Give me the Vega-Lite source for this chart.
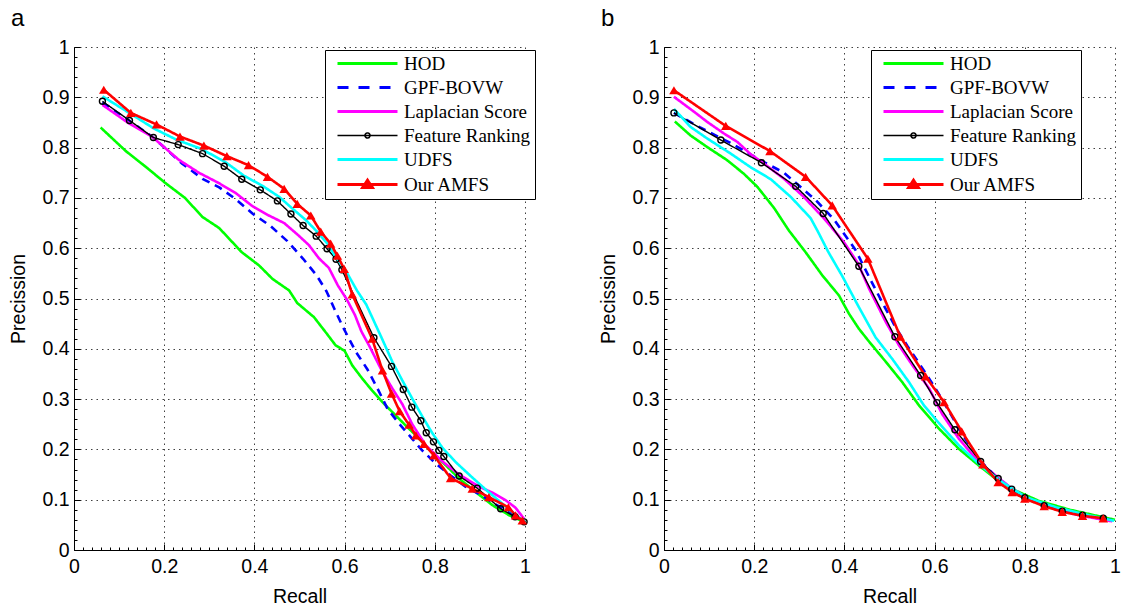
{
"$schema": "https://vega.github.io/schema/vega-lite/v6.json",
"padding": {"left": 8, "top": 7, "right": 5, "bottom": 5},
"bounds": "flush",
"spacing": 139,
"config": {
  "view": {"stroke": null},
  "font": "Liberation Sans",
  "axis": {
    "labelFont": "Liberation Sans", "labelFontSize": 19.5, "labelColor": "black",
    "titleFont": "Liberation Sans", "titleFontSize": 19.5, "titleFontWeight": "normal", "titleColor": "black",
    "domainColor": "black", "domainWidth": 1, "tickColor": "black", "tickWidth": 1,
    "gridColor": "#404040", "gridDash": [1.5, 4], "gridWidth": 1,
    "labelFlush": false, "labelOverlap": false
  },
  "legend": {
    "orient": "none", "title": null,
    "padding": 4, "symbolOffset": 29, "symbolSize": 400, "symbolType": "stroke", "rowPadding": 4,
    "labelFont": "Liberation Serif", "labelFontSize": 19, "labelColor": "black", "labelOffset": 27, "labelLimit": 400,
    "strokeColor": "black", "fillColor": "white", "symbolStrokeWidth": 3
  },
  "title": {"font": "Liberation Sans", "fontSize": 24, "fontWeight": "normal", "color": "black", "anchor": "start", "frame": "bounds", "offset": 6, "dx": 2}
},
"resolve": {"scale": {"color": "independent"}, "legend": {"color": "independent"}},
"data": {"values": [
{"panel":"a","series":"HOD","recall":0.059,"precision":0.840},
{"panel":"a","series":"HOD","recall":0.115,"precision":0.793},
{"panel":"a","series":"HOD","recall":0.163,"precision":0.759},
{"panel":"a","series":"HOD","recall":0.202,"precision":0.730},
{"panel":"a","series":"HOD","recall":0.246,"precision":0.700},
{"panel":"a","series":"HOD","recall":0.285,"precision":0.662},
{"panel":"a","series":"HOD","recall":0.322,"precision":0.640},
{"panel":"a","series":"HOD","recall":0.372,"precision":0.592},
{"panel":"a","series":"HOD","recall":0.410,"precision":0.566},
{"panel":"a","series":"HOD","recall":0.440,"precision":0.539},
{"panel":"a","series":"HOD","recall":0.477,"precision":0.516},
{"panel":"a","series":"HOD","recall":0.495,"precision":0.491},
{"panel":"a","series":"HOD","recall":0.532,"precision":0.463},
{"panel":"a","series":"HOD","recall":0.558,"precision":0.433},
{"panel":"a","series":"HOD","recall":0.580,"precision":0.407},
{"panel":"a","series":"HOD","recall":0.600,"precision":0.396},
{"panel":"a","series":"HOD","recall":0.617,"precision":0.367},
{"panel":"a","series":"HOD","recall":0.639,"precision":0.341},
{"panel":"a","series":"HOD","recall":0.661,"precision":0.317},
{"panel":"a","series":"HOD","recall":0.684,"precision":0.294},
{"panel":"a","series":"HOD","recall":0.706,"precision":0.274},
{"panel":"a","series":"HOD","recall":0.735,"precision":0.248},
{"panel":"a","series":"HOD","recall":0.758,"precision":0.228},
{"panel":"a","series":"HOD","recall":0.787,"precision":0.201},
{"panel":"a","series":"HOD","recall":0.817,"precision":0.175},
{"panel":"a","series":"HOD","recall":0.854,"precision":0.142},
{"panel":"a","series":"HOD","recall":0.891,"precision":0.115},
{"panel":"a","series":"HOD","recall":0.928,"precision":0.089},
{"panel":"a","series":"HOD","recall":0.965,"precision":0.069},
{"panel":"a","series":"HOD","recall":0.998,"precision":0.056},
{"panel":"a","series":"GPF-BOVW","recall":0.063,"precision":0.890},
{"panel":"a","series":"GPF-BOVW","recall":0.120,"precision":0.855},
{"panel":"a","series":"GPF-BOVW","recall":0.176,"precision":0.820},
{"panel":"a","series":"GPF-BOVW","recall":0.240,"precision":0.768},
{"panel":"a","series":"GPF-BOVW","recall":0.285,"precision":0.738},
{"panel":"a","series":"GPF-BOVW","recall":0.322,"precision":0.721},
{"panel":"a","series":"GPF-BOVW","recall":0.358,"precision":0.698},
{"panel":"a","series":"GPF-BOVW","recall":0.397,"precision":0.668},
{"panel":"a","series":"GPF-BOVW","recall":0.436,"precision":0.644},
{"panel":"a","series":"GPF-BOVW","recall":0.473,"precision":0.614},
{"panel":"a","series":"GPF-BOVW","recall":0.508,"precision":0.579},
{"panel":"a","series":"GPF-BOVW","recall":0.538,"precision":0.546},
{"panel":"a","series":"GPF-BOVW","recall":0.560,"precision":0.514},
{"panel":"a","series":"GPF-BOVW","recall":0.577,"precision":0.480},
{"panel":"a","series":"GPF-BOVW","recall":0.597,"precision":0.442},
{"panel":"a","series":"GPF-BOVW","recall":0.625,"precision":0.394},
{"panel":"a","series":"GPF-BOVW","recall":0.650,"precision":0.360},
{"panel":"a","series":"GPF-BOVW","recall":0.673,"precision":0.321},
{"panel":"a","series":"GPF-BOVW","recall":0.695,"precision":0.281},
{"panel":"a","series":"GPF-BOVW","recall":0.721,"precision":0.251},
{"panel":"a","series":"GPF-BOVW","recall":0.750,"precision":0.221},
{"panel":"a","series":"GPF-BOVW","recall":0.772,"precision":0.198},
{"panel":"a","series":"GPF-BOVW","recall":0.802,"precision":0.172},
{"panel":"a","series":"GPF-BOVW","recall":0.835,"precision":0.148},
{"panel":"a","series":"GPF-BOVW","recall":0.868,"precision":0.126},
{"panel":"a","series":"GPF-BOVW","recall":0.905,"precision":0.108},
{"panel":"a","series":"GPF-BOVW","recall":0.940,"precision":0.088},
{"panel":"a","series":"GPF-BOVW","recall":0.970,"precision":0.072},
{"panel":"a","series":"GPF-BOVW","recall":0.998,"precision":0.057},
{"panel":"a","series":"Laplacian Score","recall":0.063,"precision":0.885},
{"panel":"a","series":"Laplacian Score","recall":0.122,"precision":0.848},
{"panel":"a","series":"Laplacian Score","recall":0.174,"precision":0.821},
{"panel":"a","series":"Laplacian Score","recall":0.232,"precision":0.776},
{"panel":"a","series":"Laplacian Score","recall":0.277,"precision":0.750},
{"panel":"a","series":"Laplacian Score","recall":0.320,"precision":0.730},
{"panel":"a","series":"Laplacian Score","recall":0.358,"precision":0.710},
{"panel":"a","series":"Laplacian Score","recall":0.395,"precision":0.684},
{"panel":"a","series":"Laplacian Score","recall":0.432,"precision":0.665},
{"panel":"a","series":"Laplacian Score","recall":0.466,"precision":0.650},
{"panel":"a","series":"Laplacian Score","recall":0.497,"precision":0.626},
{"panel":"a","series":"Laplacian Score","recall":0.521,"precision":0.606},
{"panel":"a","series":"Laplacian Score","recall":0.543,"precision":0.580},
{"panel":"a","series":"Laplacian Score","recall":0.565,"precision":0.561},
{"panel":"a","series":"Laplacian Score","recall":0.585,"precision":0.526},
{"panel":"a","series":"Laplacian Score","recall":0.605,"precision":0.498},
{"panel":"a","series":"Laplacian Score","recall":0.623,"precision":0.467},
{"panel":"a","series":"Laplacian Score","recall":0.637,"precision":0.435},
{"panel":"a","series":"Laplacian Score","recall":0.654,"precision":0.407},
{"panel":"a","series":"Laplacian Score","recall":0.684,"precision":0.354},
{"panel":"a","series":"Laplacian Score","recall":0.706,"precision":0.321},
{"panel":"a","series":"Laplacian Score","recall":0.728,"precision":0.290},
{"panel":"a","series":"Laplacian Score","recall":0.750,"precision":0.250},
{"panel":"a","series":"Laplacian Score","recall":0.780,"precision":0.208},
{"panel":"a","series":"Laplacian Score","recall":0.817,"precision":0.176},
{"panel":"a","series":"Laplacian Score","recall":0.854,"precision":0.150},
{"panel":"a","series":"Laplacian Score","recall":0.898,"precision":0.126},
{"panel":"a","series":"Laplacian Score","recall":0.928,"precision":0.114},
{"panel":"a","series":"Laplacian Score","recall":0.957,"precision":0.099},
{"panel":"a","series":"Laplacian Score","recall":0.979,"precision":0.084},
{"panel":"a","series":"Laplacian Score","recall":0.998,"precision":0.062},
{"panel":"a","series":"Feature Ranking","recall":0.063,"precision":0.892},
{"panel":"a","series":"Feature Ranking","recall":0.123,"precision":0.854},
{"panel":"a","series":"Feature Ranking","recall":0.176,"precision":0.820},
{"panel":"a","series":"Feature Ranking","recall":0.231,"precision":0.806},
{"panel":"a","series":"Feature Ranking","recall":0.285,"precision":0.788},
{"panel":"a","series":"Feature Ranking","recall":0.333,"precision":0.763},
{"panel":"a","series":"Feature Ranking","recall":0.372,"precision":0.737},
{"panel":"a","series":"Feature Ranking","recall":0.413,"precision":0.716},
{"panel":"a","series":"Feature Ranking","recall":0.451,"precision":0.694},
{"panel":"a","series":"Feature Ranking","recall":0.481,"precision":0.668},
{"panel":"a","series":"Feature Ranking","recall":0.508,"precision":0.645},
{"panel":"a","series":"Feature Ranking","recall":0.537,"precision":0.624},
{"panel":"a","series":"Feature Ranking","recall":0.561,"precision":0.599},
{"panel":"a","series":"Feature Ranking","recall":0.581,"precision":0.578},
{"panel":"a","series":"Feature Ranking","recall":0.594,"precision":0.557},
{"panel":"a","series":"Feature Ranking","recall":0.665,"precision":0.422},
{"panel":"a","series":"Feature Ranking","recall":0.704,"precision":0.365},
{"panel":"a","series":"Feature Ranking","recall":0.730,"precision":0.319},
{"panel":"a","series":"Feature Ranking","recall":0.749,"precision":0.284},
{"panel":"a","series":"Feature Ranking","recall":0.769,"precision":0.257},
{"panel":"a","series":"Feature Ranking","recall":0.781,"precision":0.233},
{"panel":"a","series":"Feature Ranking","recall":0.797,"precision":0.215},
{"panel":"a","series":"Feature Ranking","recall":0.809,"precision":0.198},
{"panel":"a","series":"Feature Ranking","recall":0.820,"precision":0.186},
{"panel":"a","series":"Feature Ranking","recall":0.854,"precision":0.147},
{"panel":"a","series":"Feature Ranking","recall":0.894,"precision":0.123},
{"panel":"a","series":"Feature Ranking","recall":0.946,"precision":0.082},
{"panel":"a","series":"Feature Ranking","recall":0.978,"precision":0.066},
{"panel":"a","series":"Feature Ranking","recall":0.998,"precision":0.056},
{"panel":"a","series":"UDFS","recall":0.063,"precision":0.902},
{"panel":"a","series":"UDFS","recall":0.126,"precision":0.867},
{"panel":"a","series":"UDFS","recall":0.177,"precision":0.838},
{"panel":"a","series":"UDFS","recall":0.229,"precision":0.815},
{"panel":"a","series":"UDFS","recall":0.281,"precision":0.798},
{"panel":"a","series":"UDFS","recall":0.336,"precision":0.771},
{"panel":"a","series":"UDFS","recall":0.377,"precision":0.744},
{"panel":"a","series":"UDFS","recall":0.418,"precision":0.724},
{"panel":"a","series":"UDFS","recall":0.455,"precision":0.702},
{"panel":"a","series":"UDFS","recall":0.484,"precision":0.679},
{"panel":"a","series":"UDFS","recall":0.514,"precision":0.656},
{"panel":"a","series":"UDFS","recall":0.540,"precision":0.632},
{"panel":"a","series":"UDFS","recall":0.562,"precision":0.609},
{"panel":"a","series":"UDFS","recall":0.580,"precision":0.583},
{"panel":"a","series":"UDFS","recall":0.602,"precision":0.556},
{"panel":"a","series":"UDFS","recall":0.628,"precision":0.515},
{"panel":"a","series":"UDFS","recall":0.648,"precision":0.488},
{"panel":"a","series":"UDFS","recall":0.665,"precision":0.455},
{"panel":"a","series":"UDFS","recall":0.682,"precision":0.422},
{"panel":"a","series":"UDFS","recall":0.706,"precision":0.374},
{"panel":"a","series":"UDFS","recall":0.728,"precision":0.337},
{"panel":"a","series":"UDFS","recall":0.750,"precision":0.301},
{"panel":"a","series":"UDFS","recall":0.772,"precision":0.266},
{"panel":"a","series":"UDFS","recall":0.794,"precision":0.233},
{"panel":"a","series":"UDFS","recall":0.817,"precision":0.203},
{"panel":"a","series":"UDFS","recall":0.846,"precision":0.175},
{"panel":"a","series":"UDFS","recall":0.876,"precision":0.150},
{"panel":"a","series":"UDFS","recall":0.913,"precision":0.120},
{"panel":"a","series":"UDFS","recall":0.950,"precision":0.092},
{"panel":"a","series":"UDFS","recall":0.979,"precision":0.070},
{"panel":"a","series":"UDFS","recall":1.000,"precision":0.056},
{"panel":"a","series":"Our AMFS","recall":0.066,"precision":0.915},
{"panel":"a","series":"Our AMFS","recall":0.126,"precision":0.869},
{"panel":"a","series":"Our AMFS","recall":0.183,"precision":0.846},
{"panel":"a","series":"Our AMFS","recall":0.235,"precision":0.822},
{"panel":"a","series":"Our AMFS","recall":0.288,"precision":0.804},
{"panel":"a","series":"Our AMFS","recall":0.339,"precision":0.783},
{"panel":"a","series":"Our AMFS","recall":0.387,"precision":0.765},
{"panel":"a","series":"Our AMFS","recall":0.429,"precision":0.742},
{"panel":"a","series":"Our AMFS","recall":0.466,"precision":0.718},
{"panel":"a","series":"Our AMFS","recall":0.495,"precision":0.688},
{"panel":"a","series":"Our AMFS","recall":0.525,"precision":0.665},
{"panel":"a","series":"Our AMFS","recall":0.547,"precision":0.633},
{"panel":"a","series":"Our AMFS","recall":0.569,"precision":0.609},
{"panel":"a","series":"Our AMFS","recall":0.584,"precision":0.585},
{"panel":"a","series":"Our AMFS","recall":0.599,"precision":0.559},
{"panel":"a","series":"Our AMFS","recall":0.617,"precision":0.508},
{"panel":"a","series":"Our AMFS","recall":0.661,"precision":0.420},
{"panel":"a","series":"Our AMFS","recall":0.684,"precision":0.357},
{"panel":"a","series":"Our AMFS","recall":0.704,"precision":0.311},
{"panel":"a","series":"Our AMFS","recall":0.722,"precision":0.276},
{"panel":"a","series":"Our AMFS","recall":0.743,"precision":0.249},
{"panel":"a","series":"Our AMFS","recall":0.758,"precision":0.228},
{"panel":"a","series":"Our AMFS","recall":0.776,"precision":0.211},
{"panel":"a","series":"Our AMFS","recall":0.798,"precision":0.188},
{"panel":"a","series":"Our AMFS","recall":0.835,"precision":0.143},
{"panel":"a","series":"Our AMFS","recall":0.883,"precision":0.122},
{"panel":"a","series":"Our AMFS","recall":0.920,"precision":0.105},
{"panel":"a","series":"Our AMFS","recall":0.963,"precision":0.085},
{"panel":"a","series":"Our AMFS","recall":0.979,"precision":0.069},
{"panel":"a","series":"Our AMFS","recall":0.994,"precision":0.059},
{"panel":"b","series":"HOD","recall":0.024,"precision":0.852},
{"panel":"b","series":"HOD","recall":0.059,"precision":0.824},
{"panel":"b","series":"HOD","recall":0.096,"precision":0.801},
{"panel":"b","series":"HOD","recall":0.140,"precision":0.775},
{"panel":"b","series":"HOD","recall":0.177,"precision":0.748},
{"panel":"b","series":"HOD","recall":0.207,"precision":0.722},
{"panel":"b","series":"HOD","recall":0.244,"precision":0.680},
{"panel":"b","series":"HOD","recall":0.277,"precision":0.635},
{"panel":"b","series":"HOD","recall":0.314,"precision":0.592},
{"panel":"b","series":"HOD","recall":0.351,"precision":0.546},
{"panel":"b","series":"HOD","recall":0.388,"precision":0.506},
{"panel":"b","series":"HOD","recall":0.410,"precision":0.470},
{"panel":"b","series":"HOD","recall":0.432,"precision":0.440},
{"panel":"b","series":"HOD","recall":0.455,"precision":0.414},
{"panel":"b","series":"HOD","recall":0.492,"precision":0.374},
{"panel":"b","series":"HOD","recall":0.528,"precision":0.334},
{"panel":"b","series":"HOD","recall":0.565,"precision":0.288},
{"panel":"b","series":"HOD","recall":0.610,"precision":0.241},
{"panel":"b","series":"HOD","recall":0.654,"precision":0.201},
{"panel":"b","series":"HOD","recall":0.698,"precision":0.168},
{"panel":"b","series":"HOD","recall":0.735,"precision":0.142},
{"panel":"b","series":"HOD","recall":0.780,"precision":0.118},
{"panel":"b","series":"HOD","recall":0.830,"precision":0.098},
{"panel":"b","series":"HOD","recall":0.900,"precision":0.080},
{"panel":"b","series":"HOD","recall":0.960,"precision":0.068},
{"panel":"b","series":"HOD","recall":1.000,"precision":0.060},
{"panel":"b","series":"GPF-BOVW","recall":0.022,"precision":0.869},
{"panel":"b","series":"GPF-BOVW","recall":0.080,"precision":0.840},
{"panel":"b","series":"GPF-BOVW","recall":0.148,"precision":0.809},
{"panel":"b","series":"GPF-BOVW","recall":0.222,"precision":0.771},
{"panel":"b","series":"GPF-BOVW","recall":0.266,"precision":0.750},
{"panel":"b","series":"GPF-BOVW","recall":0.336,"precision":0.696},
{"panel":"b","series":"GPF-BOVW","recall":0.377,"precision":0.657},
{"panel":"b","series":"GPF-BOVW","recall":0.425,"precision":0.596},
{"panel":"b","series":"GPF-BOVW","recall":0.462,"precision":0.530},
{"panel":"b","series":"GPF-BOVW","recall":0.490,"precision":0.482},
{"panel":"b","series":"GPF-BOVW","recall":0.514,"precision":0.442},
{"panel":"b","series":"GPF-BOVW","recall":0.540,"precision":0.405},
{"panel":"b","series":"GPF-BOVW","recall":0.565,"precision":0.372},
{"panel":"b","series":"GPF-BOVW","recall":0.602,"precision":0.321},
{"panel":"b","series":"GPF-BOVW","recall":0.630,"precision":0.279},
{"panel":"b","series":"GPF-BOVW","recall":0.660,"precision":0.232},
{"panel":"b","series":"GPF-BOVW","recall":0.700,"precision":0.178},
{"panel":"b","series":"GPF-BOVW","recall":0.741,"precision":0.142},
{"panel":"b","series":"GPF-BOVW","recall":0.800,"precision":0.104},
{"panel":"b","series":"GPF-BOVW","recall":0.880,"precision":0.078},
{"panel":"b","series":"GPF-BOVW","recall":0.950,"precision":0.066},
{"panel":"b","series":"GPF-BOVW","recall":1.000,"precision":0.058},
{"panel":"b","series":"Laplacian Score","recall":0.022,"precision":0.901},
{"panel":"b","series":"Laplacian Score","recall":0.067,"precision":0.871},
{"panel":"b","series":"Laplacian Score","recall":0.096,"precision":0.851},
{"panel":"b","series":"Laplacian Score","recall":0.133,"precision":0.828},
{"panel":"b","series":"Laplacian Score","recall":0.163,"precision":0.811},
{"panel":"b","series":"Laplacian Score","recall":0.192,"precision":0.787},
{"panel":"b","series":"Laplacian Score","recall":0.222,"precision":0.768},
{"panel":"b","series":"Laplacian Score","recall":0.266,"precision":0.738},
{"panel":"b","series":"Laplacian Score","recall":0.310,"precision":0.702},
{"panel":"b","series":"Laplacian Score","recall":0.355,"precision":0.659},
{"panel":"b","series":"Laplacian Score","recall":0.399,"precision":0.612},
{"panel":"b","series":"Laplacian Score","recall":0.430,"precision":0.570},
{"panel":"b","series":"Laplacian Score","recall":0.455,"precision":0.519},
{"panel":"b","series":"Laplacian Score","recall":0.492,"precision":0.453},
{"panel":"b","series":"Laplacian Score","recall":0.521,"precision":0.407},
{"panel":"b","series":"Laplacian Score","recall":0.551,"precision":0.367},
{"panel":"b","series":"Laplacian Score","recall":0.588,"precision":0.321},
{"panel":"b","series":"Laplacian Score","recall":0.617,"precision":0.270},
{"panel":"b","series":"Laplacian Score","recall":0.654,"precision":0.221},
{"panel":"b","series":"Laplacian Score","recall":0.698,"precision":0.175},
{"panel":"b","series":"Laplacian Score","recall":0.739,"precision":0.145},
{"panel":"b","series":"Laplacian Score","recall":0.772,"precision":0.122},
{"panel":"b","series":"Laplacian Score","recall":0.802,"precision":0.105},
{"panel":"b","series":"Laplacian Score","recall":0.846,"precision":0.089},
{"panel":"b","series":"Laplacian Score","recall":0.905,"precision":0.072},
{"panel":"b","series":"Laplacian Score","recall":0.950,"precision":0.064},
{"panel":"b","series":"Laplacian Score","recall":0.994,"precision":0.057},
{"panel":"b","series":"Feature Ranking","recall":0.022,"precision":0.869},
{"panel":"b","series":"Feature Ranking","recall":0.126,"precision":0.815},
{"panel":"b","series":"Feature Ranking","recall":0.216,"precision":0.770},
{"panel":"b","series":"Feature Ranking","recall":0.292,"precision":0.723},
{"panel":"b","series":"Feature Ranking","recall":0.353,"precision":0.669},
{"panel":"b","series":"Feature Ranking","recall":0.432,"precision":0.564},
{"panel":"b","series":"Feature Ranking","recall":0.512,"precision":0.424},
{"panel":"b","series":"Feature Ranking","recall":0.569,"precision":0.347},
{"panel":"b","series":"Feature Ranking","recall":0.605,"precision":0.293},
{"panel":"b","series":"Feature Ranking","recall":0.645,"precision":0.239},
{"panel":"b","series":"Feature Ranking","recall":0.702,"precision":0.176},
{"panel":"b","series":"Feature Ranking","recall":0.741,"precision":0.142},
{"panel":"b","series":"Feature Ranking","recall":0.771,"precision":0.121},
{"panel":"b","series":"Feature Ranking","recall":0.800,"precision":0.104},
{"panel":"b","series":"Feature Ranking","recall":0.843,"precision":0.088},
{"panel":"b","series":"Feature Ranking","recall":0.883,"precision":0.077},
{"panel":"b","series":"Feature Ranking","recall":0.928,"precision":0.069},
{"panel":"b","series":"Feature Ranking","recall":0.974,"precision":0.063},
{"panel":"b","series":"UDFS","recall":0.022,"precision":0.877},
{"panel":"b","series":"UDFS","recall":0.059,"precision":0.841},
{"panel":"b","series":"UDFS","recall":0.096,"precision":0.818},
{"panel":"b","series":"UDFS","recall":0.148,"precision":0.788},
{"panel":"b","series":"UDFS","recall":0.192,"precision":0.761},
{"panel":"b","series":"UDFS","recall":0.237,"precision":0.737},
{"panel":"b","series":"UDFS","recall":0.281,"precision":0.702},
{"panel":"b","series":"UDFS","recall":0.325,"precision":0.660},
{"panel":"b","series":"UDFS","recall":0.343,"precision":0.630},
{"panel":"b","series":"UDFS","recall":0.364,"precision":0.593},
{"panel":"b","series":"UDFS","recall":0.395,"precision":0.545},
{"panel":"b","series":"UDFS","recall":0.432,"precision":0.483},
{"panel":"b","series":"UDFS","recall":0.469,"precision":0.423},
{"panel":"b","series":"UDFS","recall":0.506,"precision":0.380},
{"panel":"b","series":"UDFS","recall":0.543,"precision":0.334},
{"panel":"b","series":"UDFS","recall":0.576,"precision":0.288},
{"panel":"b","series":"UDFS","recall":0.606,"precision":0.256},
{"panel":"b","series":"UDFS","recall":0.654,"precision":0.208},
{"panel":"b","series":"UDFS","recall":0.706,"precision":0.165},
{"panel":"b","series":"UDFS","recall":0.750,"precision":0.135},
{"panel":"b","series":"UDFS","recall":0.802,"precision":0.105},
{"panel":"b","series":"UDFS","recall":0.869,"precision":0.085},
{"panel":"b","series":"UDFS","recall":0.942,"precision":0.069},
{"panel":"b","series":"UDFS","recall":0.998,"precision":0.058},
{"panel":"b","series":"Our AMFS","recall":0.022,"precision":0.914},
{"panel":"b","series":"Our AMFS","recall":0.137,"precision":0.843},
{"panel":"b","series":"Our AMFS","recall":0.235,"precision":0.793},
{"panel":"b","series":"Our AMFS","recall":0.314,"precision":0.742},
{"panel":"b","series":"Our AMFS","recall":0.373,"precision":0.685},
{"panel":"b","series":"Our AMFS","recall":0.452,"precision":0.579},
{"panel":"b","series":"Our AMFS","recall":0.524,"precision":0.424},
{"panel":"b","series":"Our AMFS","recall":0.580,"precision":0.345},
{"panel":"b","series":"Our AMFS","recall":0.621,"precision":0.294},
{"panel":"b","series":"Our AMFS","recall":0.660,"precision":0.236},
{"panel":"b","series":"Our AMFS","recall":0.707,"precision":0.170},
{"panel":"b","series":"Our AMFS","recall":0.741,"precision":0.135},
{"panel":"b","series":"Our AMFS","recall":0.772,"precision":0.115},
{"panel":"b","series":"Our AMFS","recall":0.800,"precision":0.102},
{"panel":"b","series":"Our AMFS","recall":0.843,"precision":0.087},
{"panel":"b","series":"Our AMFS","recall":0.883,"precision":0.076},
{"panel":"b","series":"Our AMFS","recall":0.928,"precision":0.068},
{"panel":"b","series":"Our AMFS","recall":0.974,"precision":0.063}
]},
"hconcat": [
{
  "width": 451, "height": 503,
  "title": {"text": "a"},
  "transform": [{"filter": "datum.panel === 'a'"}],
  "encoding": {
    "x": {"field": "recall", "type": "quantitative", "scale": {"domain": [0, 1], "nice": false},
      "axis": {"title": "Recall", "values": [0,0.02,0.04,0.06,0.08,0.1,0.12,0.14,0.16,0.18,0.2,0.22,0.24,0.26,0.28,0.3,0.32,0.34,0.36,0.38,0.4,0.42,0.44,0.46,0.48,0.5,0.52,0.54,0.56,0.58,0.6,0.62,0.64,0.66,0.68,0.7,0.72,0.74,0.76,0.78,0.8,0.82,0.84,0.86,0.88,0.9,0.92,0.94,0.96,0.98,1],
        "labelExpr": "abs(datum.value*5-round(datum.value*5))<0.001 ? format(datum.value,'~g') : ''",
        "labelOverlap": false,
        "gridOpacity": {"condition": {"test": "abs(datum.value*5-round(datum.value*5))<0.001", "value": 1}, "value": 0},
        "tickSize": {"condition": {"test": "abs(datum.value*5-round(datum.value*5))<0.001", "value": -6}, "value": -3},
        "labelPadding": 13, "titlePadding": 9}},
    "y": {"field": "precision", "type": "quantitative", "scale": {"domain": [0, 1], "nice": false},
      "axis": {"title": "Precission", "values": [0,0.02,0.04,0.06,0.08,0.1,0.12,0.14,0.16,0.18,0.2,0.22,0.24,0.26,0.28,0.3,0.32,0.34,0.36,0.38,0.4,0.42,0.44,0.46,0.48,0.5,0.52,0.54,0.56,0.58,0.6,0.62,0.64,0.66,0.68,0.7,0.72,0.74,0.76,0.78,0.8,0.82,0.84,0.86,0.88,0.9,0.92,0.94,0.96,0.98,1],
        "labelExpr": "abs(datum.value*10-round(datum.value*10))<0.001 ? format(datum.value,'~g') : ''",
        "labelOverlap": false,
        "gridOpacity": {"condition": {"test": "abs(datum.value*10-round(datum.value*10))<0.001", "value": 1}, "value": 0},
        "tickSize": {"condition": {"test": "abs(datum.value*10-round(datum.value*10))<0.001", "value": -6}, "value": -3},
        "labelPadding": 11, "titlePadding": 13}}
  },
  "layer": [
    {
      "mark": {"type": "line", "strokeJoin": "round"},
      "encoding": {
        "color": {"field": "series", "type": "nominal",
          "scale": {"domain": ["HOD","GPF-BOVW","Laplacian Score","Feature Ranking","UDFS","Our AMFS"], "range": ["#00ff00","#0000ff","#ff00ff","#000000","#00ffff","#ff0000"]},
          "legend": {"legendX": 251, "legendY": 3,
            "encode": {"symbols": {"update": {
              "shape": {"signal": "datum.value === 'Feature Ranking' ? 'M-3,0H3M0.25,0A0.25,0.25 0 1 1 -0.25,0A0.25,0.25 0 1 1 0.25,0' : datum.value === 'Our AMFS' ? 'M-3,0H3M0,-0.42L0.48,0.3L-0.48,0.3Z' : 'M-3,0H3'"},
              "strokeDash": {"signal": "datum.value === 'GPF-BOVW' ? [11,10] : [1,0]"},
              "strokeWidth": {"signal": "datum.value === 'Feature Ranking' ? 1.6 : 3"},
              "fill": {"signal": "datum.value === 'Our AMFS' ? '#ff0000' : 'transparent'"},
              "opacity": {"value": 1}
            }}}}},
        "strokeWidth": {"condition": {"test": "datum.series === 'Feature Ranking'", "value": 1.4}, "value": 2.6},
        "strokeDash": {"condition": {"test": "datum.series === 'GPF-BOVW'", "value": [8, 6]}, "value": [1, 0]}
      }
    },
    {
      "transform": [{"filter": "datum.series === 'Feature Ranking'"}],
      "mark": {"type": "point", "shape": "circle", "filled": false, "stroke": "#000000", "strokeWidth": 1.4, "size": 36, "opacity": 1}
    },
    {
      "transform": [{"filter": "datum.series === 'Our AMFS'"}],
      "mark": {"type": "point", "shape": "triangle-up", "filled": true, "fill": "#ff0000", "size": 90, "opacity": 1}
    }
  ]
},
{
  "width": 451, "height": 503,
  "title": {"text": "b"},
  "transform": [{"filter": "datum.panel === 'b'"}],
  "encoding": {
    "x": {"field": "recall", "type": "quantitative", "scale": {"domain": [0, 1], "nice": false},
      "axis": {"title": "Recall", "values": [0,0.02,0.04,0.06,0.08,0.1,0.12,0.14,0.16,0.18,0.2,0.22,0.24,0.26,0.28,0.3,0.32,0.34,0.36,0.38,0.4,0.42,0.44,0.46,0.48,0.5,0.52,0.54,0.56,0.58,0.6,0.62,0.64,0.66,0.68,0.7,0.72,0.74,0.76,0.78,0.8,0.82,0.84,0.86,0.88,0.9,0.92,0.94,0.96,0.98,1],
        "labelExpr": "abs(datum.value*5-round(datum.value*5))<0.001 ? format(datum.value,'~g') : ''",
        "labelOverlap": false,
        "gridOpacity": {"condition": {"test": "abs(datum.value*5-round(datum.value*5))<0.001", "value": 1}, "value": 0},
        "tickSize": {"condition": {"test": "abs(datum.value*5-round(datum.value*5))<0.001", "value": -6}, "value": -3},
        "labelPadding": 13, "titlePadding": 9}},
    "y": {"field": "precision", "type": "quantitative", "scale": {"domain": [0, 1], "nice": false},
      "axis": {"title": "Precission", "values": [0,0.02,0.04,0.06,0.08,0.1,0.12,0.14,0.16,0.18,0.2,0.22,0.24,0.26,0.28,0.3,0.32,0.34,0.36,0.38,0.4,0.42,0.44,0.46,0.48,0.5,0.52,0.54,0.56,0.58,0.6,0.62,0.64,0.66,0.68,0.7,0.72,0.74,0.76,0.78,0.8,0.82,0.84,0.86,0.88,0.9,0.92,0.94,0.96,0.98,1],
        "labelExpr": "abs(datum.value*10-round(datum.value*10))<0.001 ? format(datum.value,'~g') : ''",
        "labelOverlap": false,
        "gridOpacity": {"condition": {"test": "abs(datum.value*10-round(datum.value*10))<0.001", "value": 1}, "value": 0},
        "tickSize": {"condition": {"test": "abs(datum.value*10-round(datum.value*10))<0.001", "value": -6}, "value": -3},
        "labelPadding": 11, "titlePadding": 13}}
  },
  "layer": [
    {
      "mark": {"type": "line", "strokeJoin": "round"},
      "encoding": {
        "color": {"field": "series", "type": "nominal",
          "scale": {"domain": ["HOD","GPF-BOVW","Laplacian Score","Feature Ranking","UDFS","Our AMFS"], "range": ["#00ff00","#0000ff","#ff00ff","#000000","#00ffff","#ff0000"]},
          "legend": {"legendX": 207, "legendY": 3,
            "encode": {"symbols": {"update": {
              "shape": {"signal": "datum.value === 'Feature Ranking' ? 'M-3,0H3M0.25,0A0.25,0.25 0 1 1 -0.25,0A0.25,0.25 0 1 1 0.25,0' : datum.value === 'Our AMFS' ? 'M-3,0H3M0,-0.42L0.48,0.3L-0.48,0.3Z' : 'M-3,0H3'"},
              "strokeDash": {"signal": "datum.value === 'GPF-BOVW' ? [11,10] : [1,0]"},
              "strokeWidth": {"signal": "datum.value === 'Feature Ranking' ? 1.6 : 3"},
              "fill": {"signal": "datum.value === 'Our AMFS' ? '#ff0000' : 'transparent'"},
              "opacity": {"value": 1}
            }}}}},
        "strokeWidth": {"condition": {"test": "datum.series === 'Feature Ranking'", "value": 1.4}, "value": 2.6},
        "strokeDash": {"condition": {"test": "datum.series === 'GPF-BOVW'", "value": [8, 6]}, "value": [1, 0]}
      }
    },
    {
      "transform": [{"filter": "datum.series === 'Feature Ranking'"}],
      "mark": {"type": "point", "shape": "circle", "filled": false, "stroke": "#000000", "strokeWidth": 1.4, "size": 36, "opacity": 1}
    },
    {
      "transform": [{"filter": "datum.series === 'Our AMFS'"}],
      "mark": {"type": "point", "shape": "triangle-up", "filled": true, "fill": "#ff0000", "size": 90, "opacity": 1}
    }
  ]
}
]
}
